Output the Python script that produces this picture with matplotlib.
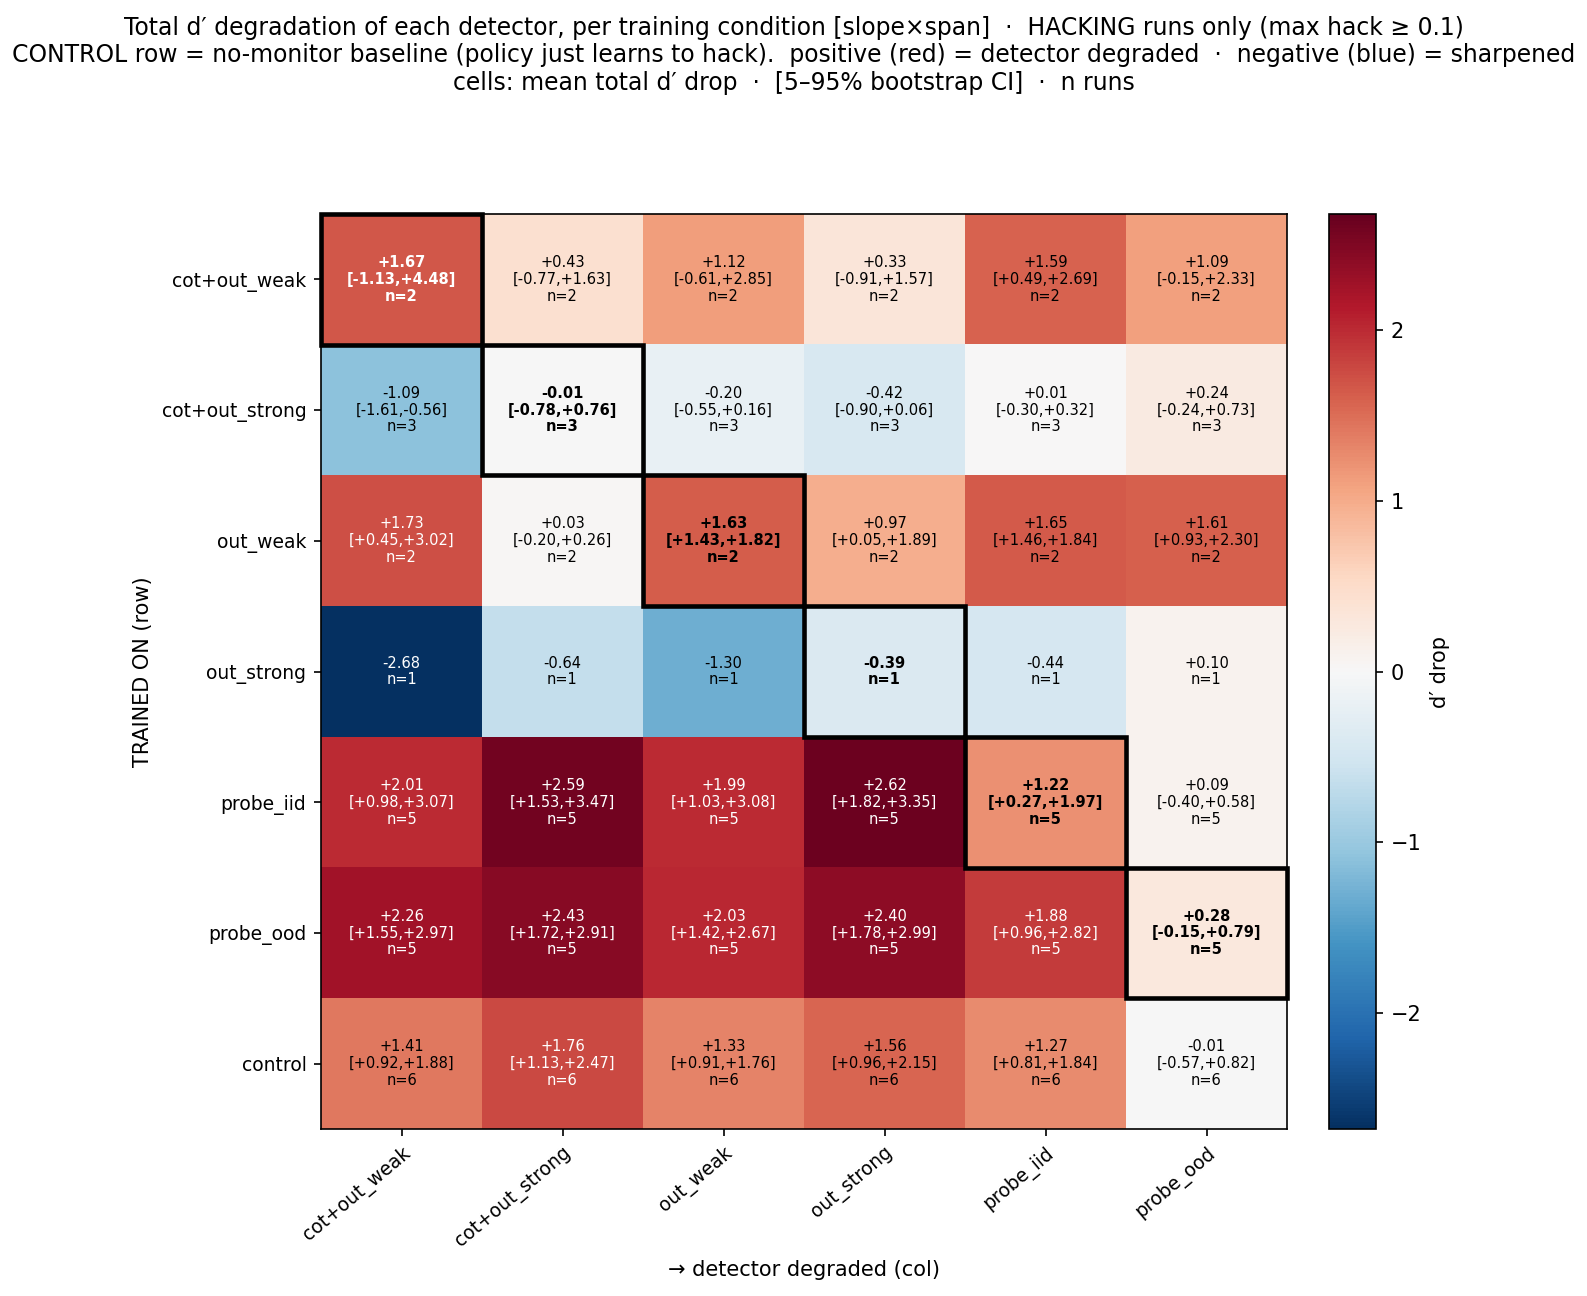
import numpy as np
import matplotlib
matplotlib.use("Agg")
import matplotlib.pyplot as plt
from matplotlib.patches import Rectangle

# conditions (rows = trained on, cols = detector)
rows = ["cot+out_weak", "cot+out_strong", "out_weak", "out_strong",
        "probe_iid", "probe_ood", "control"]
cols = ["cot+out_weak", "cot+out_strong", "out_weak", "out_strong",
        "probe_iid", "probe_ood"]

# mean total d' drop
mean = np.array([
    [1.67, 0.43, 1.12, 0.33, 1.59, 1.09],
    [-1.09, -0.01, -0.20, -0.42, 0.01, 0.24],
    [1.73, 0.03, 1.63, 0.97, 1.65, 1.61],
    [-2.68, -0.64, -1.30, -0.39, -0.44, 0.10],
    [2.01, 2.59, 1.99, 2.62, 1.22, 0.09],
    [2.26, 2.43, 2.03, 2.40, 1.88, 0.28],
    [1.41, 1.76, 1.33, 1.56, 1.27, -0.01],
])
nan = np.nan
ci_lo = np.array([
    [-1.13, -0.77, -0.61, -0.91, 0.49, -0.15],
    [-1.61, -0.78, -0.55, -0.90, -0.30, -0.24],
    [0.45, -0.20, 1.43, 0.05, 1.46, 0.93],
    [nan, nan, nan, nan, nan, nan],
    [0.98, 1.53, 1.03, 1.82, 0.27, -0.40],
    [1.55, 1.72, 1.42, 1.78, 0.96, -0.15],
    [0.92, 1.13, 0.91, 0.96, 0.81, -0.57],
])
ci_hi = np.array([
    [4.48, 1.63, 2.85, 1.57, 2.69, 2.33],
    [-0.56, 0.76, 0.16, 0.06, 0.32, 0.73],
    [3.02, 0.26, 1.82, 1.89, 1.84, 2.30],
    [nan, nan, nan, nan, nan, nan],
    [3.07, 3.47, 3.08, 3.35, 1.97, 0.58],
    [2.97, 2.91, 2.67, 2.99, 2.82, 0.79],
    [1.88, 2.47, 1.76, 2.15, 1.84, 0.82],
])
n_runs = [2, 3, 2, 1, 5, 5, 6]

vmax = np.nanmax(np.abs(mean))

fig = plt.figure(figsize=(1587 / 150, 1296 / 150), dpi=150)
ax = fig.add_axes([321 / 1587, 1 - 1129 / 1296, 966 / 1587, 915 / 1296])
cax = fig.add_axes([1329 / 1587, 1 - 1129 / 1296, 47 / 1587, 915 / 1296])

im = ax.imshow(mean, cmap="RdBu_r", vmin=-vmax, vmax=vmax, aspect="auto")

for i in range(len(rows)):
    for j in range(len(cols)):
        v = mean[i, j]
        if np.isnan(ci_lo[i, j]):
            s = f"{v:+.2f}\nn={n_runs[i]}"
        else:
            s = f"{v:+.2f}\n[{ci_lo[i, j]:+.2f},{ci_hi[i, j]:+.2f}]\nn={n_runs[i]}"
        col = "white" if abs(v) > 0.62 * vmax else "black"
        ax.text(j, i, s, ha="center", va="center", fontsize=7, color=col,
                fontweight="bold" if i == j else "normal", linespacing=1.15)

# outline the diagonal (trained on == detector)
for k in range(len(cols)):
    ax.add_patch(Rectangle((k - 0.5, k - 0.5), 1, 1, fill=False,
                           edgecolor="black", lw=2.2, clip_on=False))

ax.set_xticks(range(len(cols)))
ax.set_xticklabels(cols, rotation=40, ha="right", rotation_mode="anchor", fontsize=9)
ax.set_yticks(range(len(rows)))
ax.set_yticklabels(rows, fontsize=9)
ax.set_xlabel("→ detector degraded (col)")
ax.set_ylabel("TRAINED ON (row)")

cb = fig.colorbar(im, cax=cax)
cb.set_label("d′ drop")

fig.suptitle("Total d′ degradation of each detector, per training condition [slope×span]  ·  HACKING runs only (max hack ≥ 0.1)\n"
             "CONTROL row = no-monitor baseline (policy just learns to hack).  positive (red) = detector degraded  ·  negative (blue) = sharpened\n"
             "cells: mean total d′ drop  ·  [5–95% bootstrap CI]  ·  n runs",
             fontsize=11.3, y=0.988)

fig.savefig("out.png", dpi=150)
